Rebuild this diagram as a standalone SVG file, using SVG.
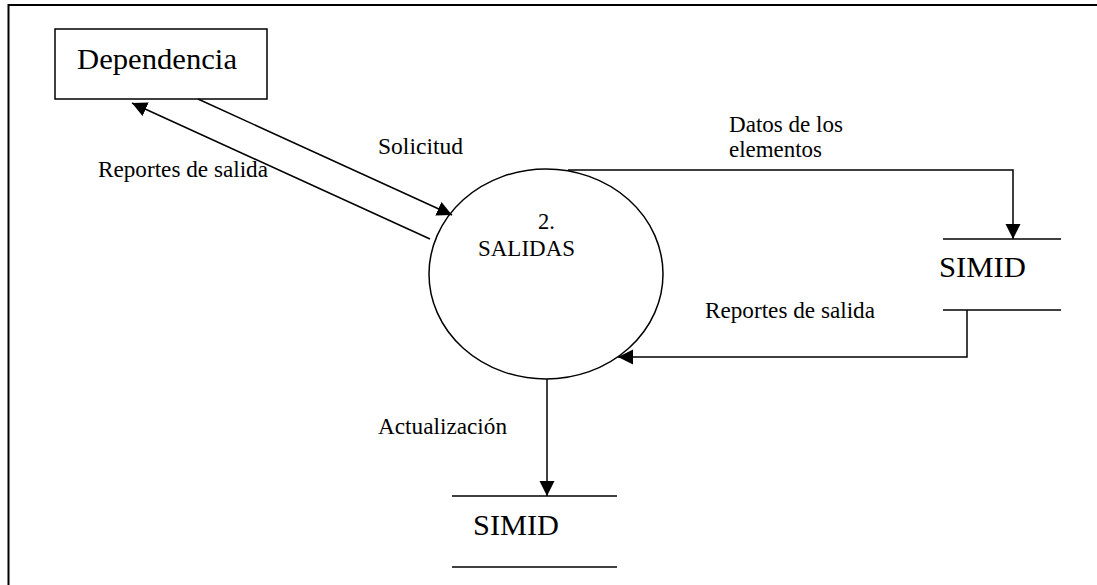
<svg xmlns="http://www.w3.org/2000/svg" width="1097" height="585" viewBox="0 0 1097 585">
<style>
.s{font-size:22.5px}
.b{font-size:29px}
.ln{stroke:#000;stroke-width:1.5;fill:none}
.fr{stroke:#000;stroke-width:2;fill:none}
</style>
<defs>
<marker id="ah" markerUnits="userSpaceOnUse" markerWidth="16" markerHeight="16" refX="15" refY="7.5" orient="auto">
<path d="M0,0 L15,7.5 L0,15 z" fill="#000"/>
</marker>
</defs>
<rect width="1097" height="585" fill="#fff"/>
<path class="fr" d="M8.5,585 V5 H1097"/>
<g font-family="Liberation Serif, Times New Roman, Tinos, Noto Serif, DejaVu Serif, serif" fill="#000">
<g id="dependencia">
<rect x="55" y="29" width="212" height="70" class="ln" fill="#fff"/>
<text class="b" x="77" y="69" textLength="160" lengthAdjust="spacingAndGlyphs">Dependencia</text>
</g>
<g id="salidas">
<ellipse cx="546" cy="274" rx="117" ry="105" class="ln"/>
<text class="s" x="538" y="229">2.</text>
<text class="s" x="478" y="256" textLength="97" lengthAdjust="spacingAndGlyphs">SALIDAS</text>
</g>
<g id="simid1">
<line class="ln" x1="943" y1="239" x2="1061" y2="239"/>
<line class="ln" x1="943" y1="310" x2="1061" y2="310"/>
<text class="b" x="939" y="277" textLength="87" lengthAdjust="spacingAndGlyphs">SIMID</text>
</g>
<g id="simid2">
<line class="ln" x1="452" y1="496" x2="617" y2="496"/>
<line class="ln" x1="452" y1="567" x2="617" y2="567"/>
<text class="b" x="473" y="535" textLength="86" lengthAdjust="spacingAndGlyphs">SIMID</text>
</g>
<g id="connectors">
<line class="ln" x1="198" y1="99" x2="452" y2="215" marker-end="url(#ah)"/>
<line class="ln" x1="430" y1="239" x2="132" y2="103" marker-end="url(#ah)"/>
<polyline class="ln" points="568,170 1013,170 1013,239" marker-end="url(#ah)"/>
<polyline class="ln" points="967,310 967,357 618,357" marker-end="url(#ah)"/>
<line class="ln" x1="547" y1="379" x2="547" y2="496" marker-end="url(#ah)"/>
<text class="s" x="378" y="154" textLength="85" lengthAdjust="spacingAndGlyphs">Solicitud</text>
<text class="s" x="98" y="177" textLength="170" lengthAdjust="spacingAndGlyphs">Reportes de salida</text>
<text class="s" x="729" y="132" textLength="114" lengthAdjust="spacingAndGlyphs">Datos de los</text>
<text class="s" x="729" y="157" textLength="93" lengthAdjust="spacingAndGlyphs">elementos</text>
<text class="s" x="705" y="318" textLength="170" lengthAdjust="spacingAndGlyphs">Reportes de salida</text>
<text class="s" x="378" y="434" textLength="129" lengthAdjust="spacingAndGlyphs">Actualización</text>
</g>
</g>
</svg>
